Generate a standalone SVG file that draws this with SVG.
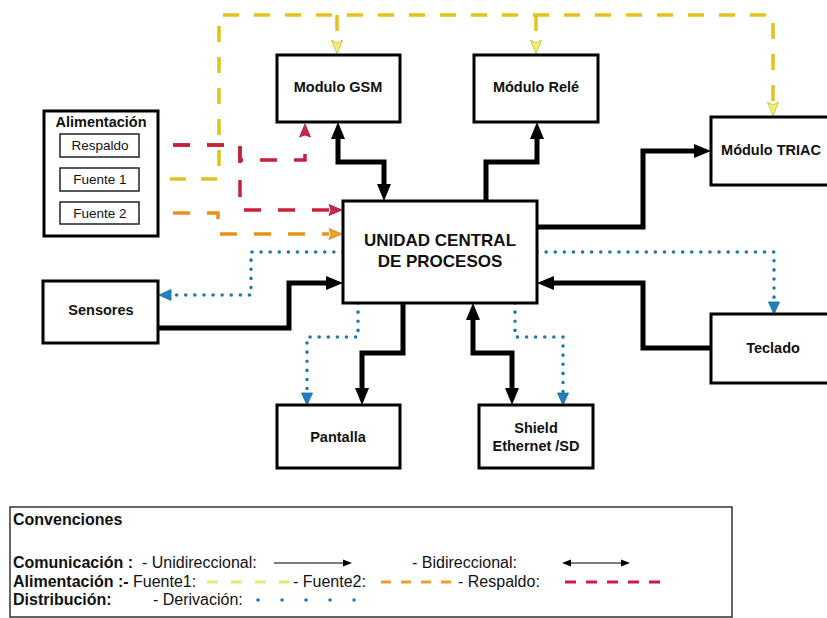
<svg xmlns="http://www.w3.org/2000/svg" width="827" height="618" viewBox="0 0 827 618">
<style>
.box{fill:#fff;stroke:#000;stroke-width:3}
.sub{fill:#fff;stroke:#222;stroke-width:1.5}
.t{font-family:"Liberation Sans",Arial,sans-serif;font-weight:bold;font-size:14.5px;text-anchor:middle;fill:#111}
.ts{font-family:"Liberation Sans",Arial,sans-serif;font-size:13.5px;text-anchor:middle;fill:#111}
.big{font-family:"Liberation Sans",Arial,sans-serif;font-weight:bold;font-size:17px;text-anchor:middle;fill:#111}
.lg{font-family:"Liberation Sans",Arial,sans-serif;font-size:16px;fill:#111}
.lgb{font-family:"Liberation Sans",Arial,sans-serif;font-size:16px;font-weight:bold;fill:#111}
.blk{fill:none;stroke:#000;stroke-width:5}
.red{fill:none;stroke:#c8203c;stroke-width:3.5;stroke-dasharray:17 17}
.org{fill:none;stroke:#e8901c;stroke-width:3.5;stroke-dasharray:17 17}
.yel{fill:none;stroke:#e2c21c;stroke-width:3.5;stroke-dasharray:16 15}
.blu{fill:none;stroke:#1f78a8;stroke-width:3.5;stroke-dasharray:0.1 9;stroke-linecap:round}
</style>
<defs>
<marker id="ab" markerUnits="userSpaceOnUse" markerWidth="17" markerHeight="14" refX="0" refY="7" orient="auto-start-reverse" overflow="visible"><path d="M0,0 L17,7 L0,14 Z" fill="#000"/></marker>
<marker id="ar" markerUnits="userSpaceOnUse" markerWidth="13" markerHeight="11" refX="0" refY="5.5" orient="auto" overflow="visible"><path d="M0,0 L13,5.5 L0,11 L2,5.5 Z" fill="#c8284a" stroke="#a01838" stroke-width="0.8"/></marker>
<marker id="ao" markerUnits="userSpaceOnUse" markerWidth="13" markerHeight="11" refX="0" refY="5.5" orient="auto" overflow="visible"><path d="M0,0 L13,5.5 L0,11 L2,5.5 Z" fill="#f2a030" stroke="#d88018" stroke-width="0.8"/></marker>
<marker id="ay" markerUnits="userSpaceOnUse" markerWidth="14" markerHeight="11" refX="0" refY="5.5" orient="auto" overflow="visible"><path d="M0,0 L14,5.5 L0,11 L3,5.5 Z" fill="#f2ee78" stroke="#c8b830" stroke-width="0.8"/></marker>
<marker id="au" markerUnits="userSpaceOnUse" markerWidth="12" markerHeight="11" refX="0" refY="5.5" orient="auto" overflow="visible"><path d="M0,0 L12,5.5 L0,11 Z" fill="#1f80c0" stroke="#1a6a9a" stroke-width="0.8"/></marker>
<marker id="al" markerUnits="userSpaceOnUse" markerWidth="9" markerHeight="7" refX="0" refY="3.5" orient="auto-start-reverse" overflow="visible"><path d="M0,0 L9,3.5 L0,7 Z" fill="#000"/></marker>
</defs>

<g id="connectors">
<path class="yel" d="M139,179 H219 V15 H773 V102" marker-end="url(#ay)"/>
<path class="yel" d="M337,15 V40" marker-end="url(#ay)"/>
<path class="yel" d="M536,15 V40" marker-end="url(#ay)"/>
<path class="org" d="M139,213 H218 V234 H329" marker-end="url(#ao)"/>
<path class="red" d="M139,145 H240 V160 H305 V137" marker-end="url(#ar)"/>
<path class="red" d="M139,145 H240 V210 H329" marker-end="url(#ar)"/>
<path class="blk" d="M338,139 V162 H384 V184" marker-start="url(#ab)" marker-end="url(#ab)"/>
<path class="blk" d="M486,201 V162 H537 V139" marker-end="url(#ab)"/>
<path class="blk" d="M537,227 H643 V151 H694" marker-end="url(#ab)"/>
<path class="blk" d="M711,348 H643 V283 H554" marker-end="url(#ab)"/>
<path class="blk" d="M158,328 H289 V283 H326" marker-end="url(#ab)"/>
<path class="blk" d="M403,303 V353 H362 V388" marker-end="url(#ab)"/>
<path class="blk" d="M473,320 V353 H512 V388" marker-start="url(#ab)" marker-end="url(#ab)"/>
<path class="blu" d="M343,252 H251 V295 H171" marker-end="url(#au)"/>
<path class="blu" d="M537,252 H774 V302" marker-end="url(#au)"/>
<path class="blu" d="M358,303 V337 H307 V393" marker-end="url(#au)"/>
<path class="blu" d="M515,303 V337 H563 V393" marker-end="url(#au)"/>
<path d="M107,130 L118,133.5 L107,137 Z" fill="#000"/>
</g>

<g id="alimentacion">
<rect class="box" x="44" y="111" width="114" height="125"/>
<text class="t" x="101" y="127" font-size="15">Alimentación</text>
</g>
<g id="respaldo"><rect class="sub" x="60" y="134" width="79" height="23"/><text class="ts" x="100" y="150">Respaldo</text></g>
<g id="fuente1"><rect class="sub" x="60" y="168" width="79" height="23"/><text class="ts" x="100" y="184">Fuente 1</text></g>
<g id="fuente2"><rect class="sub" x="60" y="202" width="79" height="22"/><text class="ts" x="100" y="218">Fuente 2</text></g>

<g id="gsm"><rect class="box" x="277" y="55" width="123" height="67"/><text class="t" x="338" y="92">Modulo GSM</text></g>
<g id="rele"><rect class="box" x="474" y="55" width="124" height="67"/><text class="t" x="536" y="92">Módulo Relé</text></g>
<g id="triac"><rect class="box" x="711" y="117" width="130" height="68"/><text class="t" x="771" y="155">Módulo TRIAC</text></g>
<g id="cpu"><rect class="box" x="343" y="201" width="194" height="102"/><text class="big" x="440" y="246">UNIDAD CENTRAL</text><text class="big" x="440" y="267">DE PROCESOS</text></g>
<g id="sensores"><rect class="box" x="43" y="281" width="115" height="62"/><text class="t" x="101" y="315">Sensores</text></g>
<g id="teclado"><rect class="box" x="711" y="314" width="130" height="69"/><text class="t" x="773" y="353">Teclado</text></g>
<g id="pantalla"><rect class="box" x="277" y="405" width="123" height="63"/><text class="t" x="338" y="442">Pantalla</text></g>
<g id="shield"><rect class="box" x="479" y="405" width="114" height="63"/><text class="t" x="536" y="433">Shield</text><text class="t" x="536" y="451">Ethernet /SD</text></g>

<g id="legend">
<rect x="10" y="507" width="722" height="110" fill="#fff" stroke="#333" stroke-width="1.5"/>
<text class="lgb" x="13" y="525">Convenciones</text>
<text class="lgb" x="13" y="568">Comunicación :</text>
<text class="lg" x="142" y="568">- Unidireccional:</text>
<line x1="274" y1="563" x2="343" y2="563" stroke="#000" stroke-width="1.2" marker-end="url(#al)"/>
<text class="lg" x="412" y="568">- Bidireccional:</text>
<line x1="571" y1="563" x2="621" y2="563" stroke="#000" stroke-width="1.2" marker-start="url(#al)" marker-end="url(#al)"/>
<text class="lgb" x="13" y="587">Alimentación :-</text>
<text class="lg" x="133" y="587">Fuente1:</text>
<line x1="207" y1="582" x2="292" y2="582" stroke="#e8e878" stroke-width="3" stroke-dasharray="11 13"/>
<text class="lg" x="293" y="587">- Fuente2:</text>
<line x1="381" y1="582" x2="456" y2="582" stroke="#eca030" stroke-width="3" stroke-dasharray="10 10"/>
<text class="lg" x="458" y="587">- Respaldo:</text>
<line x1="565" y1="582" x2="666" y2="582" stroke="#d0184a" stroke-width="3" stroke-dasharray="11 10"/>
<text class="lgb" x="13" y="605">Distribución:</text>
<text class="lg" x="153" y="605">- Derivación:</text>
<line x1="258" y1="600" x2="354" y2="600" stroke="#1f78a8" stroke-width="3.5" stroke-linecap="round" stroke-dasharray="0.1 23.9"/>
</g>
</svg>
